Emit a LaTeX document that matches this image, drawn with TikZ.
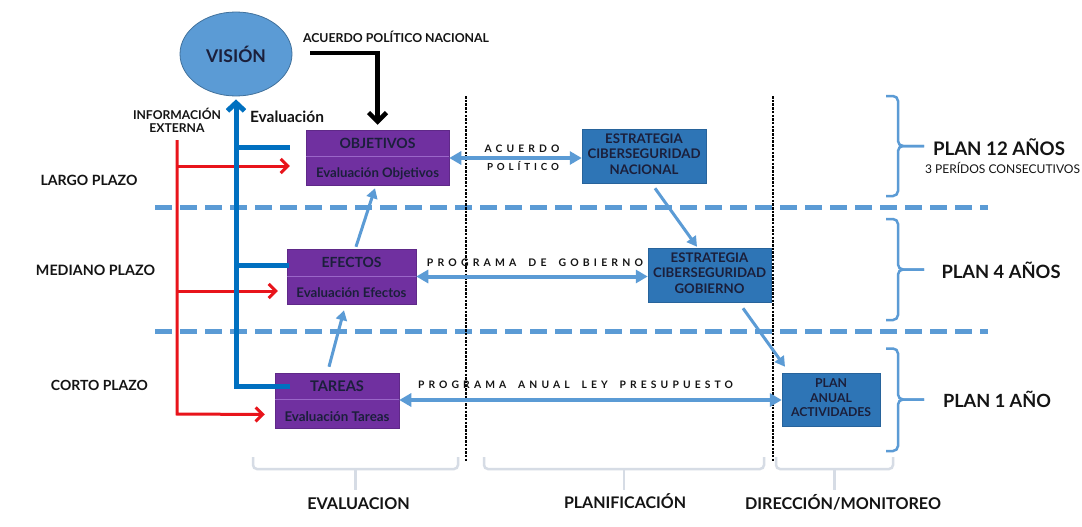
\documentclass[tikz,border=0pt]{standalone}
\usepackage{fontspec}
\setmainfont{Lato}
\newfontfamily\spf{Lato}[LetterSpace=40]
\usetikzlibrary{arrows.meta,shapes.geometric,calc}
\definecolor{purp}{HTML}{7030A0}
\definecolor{purpline}{HTML}{9A66C8}
\definecolor{boxblue}{HTML}{2E75B6}
\definecolor{lblue}{HTML}{5B9BD5}
\definecolor{dblue}{HTML}{0070C0}
\definecolor{navy}{HTML}{1B1F3B}
\definecolor{bred}{HTML}{E8141B}
\definecolor{gbrace}{HTML}{D6DCE5}
\definecolor{txt}{HTML}{141414}
\definecolor{ellborder}{HTML}{41719C}
\newcommand\myfs[1]{\fontsize{#1}{#1}\selectfont}
\newcommand\fitw[2]{\resizebox{#1}{!}{#2}}
\newcommand\threelines[4]{\fitw{#1}{\begin{tabular}{@{}c@{}}#2\\[2pt]#3\\[2pt]#4\end{tabular}}}
\begin{document}
\begin{tikzpicture}[x=1pt,y=-1pt,
  purplebox/.style={fill=purp, draw=purp!85!black, line width=0.5pt, inner sep=0pt},
  ptext/.style={text=navy, font=\bfseries\myfs{14}, inner sep=0pt},
  bluebox/.style={fill=boxblue, draw=boxblue!85!black, line width=0.5pt, inner sep=0pt, text=navy, font=\bfseries\myfs{14}},
  lbl/.style={text=txt, font=\bfseries\myfs{16}, inner sep=0pt},
  spaced/.style={text=txt, font=\spf\bfseries\myfs{10}, inner sep=0pt},
  biarrow/.style={lblue, line width=4pt, {Triangle[length=12pt,width=13pt]}-{Triangle[length=12pt,width=13pt]}},
  diag/.style={lblue, line width=3pt, -{Triangle[length=10pt,width=11pt]}},
  redarrow/.style={bred, line width=3pt, -{Straight Barb[length=7pt,width=14pt]}},
  trunk/.style={dblue, line width=5pt},
  blk/.style={black, line width=4.5pt, -{Straight Barb[length=9pt,width=18pt]}},
  sep/.style={lblue, line width=5pt, dash pattern=on 17pt off 8pt},
  dotsep/.style={black, line width=1.3pt, dash pattern=on 2.5pt off 1.2pt},
  rbrace/.style={lblue, line width=2.5pt, rounded corners=5pt},
  bbrace/.style={gbrace, line width=2.5pt, rounded corners=4pt}
]
\useasboundingbox (0,0) rectangle (1082,527);
\fill[white] (0,0) rectangle (1082,527);

% separators
\draw[sep] (155,207.7) -- (988,207.7);
\draw[sep] (155,331.7) -- (988,331.7);
\draw[dotsep] (466,96) -- (466,462);
\draw[dotsep] (773,96) -- (773,462);

% vision
\node[ellipse, fill=lblue, draw=ellborder, line width=0.8pt, minimum width=112pt, minimum height=84pt, inner sep=0pt, text=navy, font=\bfseries\myfs{20}] (vision) at (236,54) {\fitw{60pt}{VISIÓN}};
\node[lbl] (acnac) at (396,36.5) {\fitw{186pt}{ACUERDO POLÍTICO NACIONAL}};

% purple boxes
\node[purplebox, minimum width=143pt, minimum height=55pt] (obj) at (377.5,157.5) {};
\draw[purpline, line width=0.8pt] (obj.west |- 0,156) -- (obj.east |- 0,156);
\node[ptext] (objt) at (377.5,143) {\fitw{76pt}{OBJETIVOS}};
\node[ptext] (objs) at (377.5,174) {\fitw{123pt}{Evaluación Objetivos}};

\node[purplebox, minimum width=129pt, minimum height=55pt] (efe) at (351.5,276.5) {};
\draw[purpline, line width=0.8pt] (efe.west |- 0,276) -- (efe.east |- 0,276);
\node[ptext] (efet) at (351.5,262) {\fitw{60pt}{EFECTOS}};
\node[ptext] (efes) at (351.5,293) {\fitw{110pt}{Evaluación Efectos}};

\node[purplebox, minimum width=124pt, minimum height=55pt] (tar) at (337,400.5) {};
\draw[purpline, line width=0.8pt] (tar.west |- 0,399.5) -- (tar.east |- 0,399.5);
\node[ptext] (tart) at (337,386) {\fitw{54pt}{TAREAS}};
\node[ptext] (tars) at (337,417) {\fitw{105pt}{Evaluación Tareas}};

% blue boxes
\node[bluebox, minimum width=124pt, minimum height=54pt] (nac) at (644,156) {\threelines{113pt}{ESTRATEGIA}{CIBERSEGURIDAD}{NACIONAL}};
\node[bluebox, minimum width=123pt, minimum height=54pt] (gob) at (709.5,275) {\threelines{113pt}{ESTRATEGIA}{CIBERSEGURIDAD}{GOBIERNO}};
\node[bluebox, minimum width=98pt, minimum height=53pt] (pa) at (831,399.5) {\threelines{80pt}{PLAN}{ANUAL}{ACTIVIDADES}};

% left labels
\node[lbl] (info) at (177,122.5) {\fitw{88pt}{\begin{tabular}{@{}c@{}}INFORMACIÓN\\[1pt]EXTERNA\end{tabular}}};
\node[lbl] (evl) at (287,117) {\fitw{74pt}{Evaluación}};
\node[lbl] (largo) at (89,180) {\fitw{97pt}{LARGO PLAZO}};
\node[lbl] (mediano) at (95.5,270) {\fitw{119pt}{MEDIANO PLAZO}};
\node[lbl] (corto) at (99.5,385.7) {\fitw{97pt}{CORTO PLAZO}};

% spaced labels
\node[spaced] (ac1) at (522,148.3) {\fitw{75pt}{ACUERDO}};
\node[spaced] (ac2) at (523,165.7) {\fitw{72pt}{POLÍTICO}};
\node[spaced] (pg) at (535,263) {\fitw{216pt}{PROGRAMA\hspace{5pt} DE\hspace{5pt} GOBIERNO}};
\node[spaced] (pal) at (575.5,385) {\fitw{315pt}{PROGRAMA\hspace{5pt} ANUAL\hspace{5pt} LEY\hspace{5pt} PRESUPUESTO}};

% right labels
\node[lbl] (p12) at (999,146.7) {\fitw{132pt}{PLAN 12 AÑOS}};
\node[text=txt, font=\myfs{13}, inner sep=0pt] (p12s) at (1002.5,168) {\fitw{155pt}{3 PERÍDOS CONSECUTIVOS}};
\node[lbl] (p4) at (1001,270) {\fitw{119pt}{PLAN 4 AÑOS}};
\node[lbl] (p1) at (997,399.3) {\fitw{108pt}{PLAN 1 AÑO}};

% bottom labels
\node[lbl] (bev) at (358.5,504) {\fitw{102.5pt}{EVALUACION}};
\node[lbl] (bpl) at (625,501) {\fitw{122pt}{PLANIFICACIÓN}};
\node[lbl] (bdm) at (843,502) {\fitw{196pt}{DIRECCIÓN/MONITOREO}};

% right braces
\draw[rbrace] (886,96) -- (898,96) -- (898,146) -- (924,146);
\draw[rbrace] (886,196) -- (898,196) -- (898,146) -- (924,146);
\draw[rbrace] (886,219) -- (898,219) -- (898,269.5) -- (924,269.5);
\draw[rbrace] (886,320) -- (898,320) -- (898,269.5) -- (924,269.5);
\draw[rbrace] (886,348.5) -- (898,348.5) -- (898,399.5) -- (924,399.5);
\draw[rbrace] (886,451) -- (898,451) -- (898,399.5) -- (924,399.5);

% bottom braces
\draw[bbrace] (253,457) -- (253,469) -- (458,469) -- (458,457);
\draw[bbrace] (355.5,469) -- (355.5,490);
\draw[bbrace] (484,457) -- (484,469) -- (764,469) -- (764,457);
\draw[bbrace] (624,469) -- (624,490);
\draw[bbrace] (776,457) -- (776,469) -- (893,469) -- (893,457);
\draw[bbrace] (834.5,469) -- (834.5,490);

% red information lines
\coordinate (rtop) at (177,140);
\coordinate (r1) at (177,166);
\coordinate (r2) at (177,291);
\draw[redarrow] (rtop) -- (177,414) -- ($(tar.west)+(-10,14)$);
\draw[redarrow] (r1) -- ($(obj.west |- r1)+(-16,0)$);
\draw[redarrow] (r2) -- ($(efe.west |- r2)+(-9,0)$);

% blue evaluation trunk
\coordinate (b1) at (236,147.5);
\coordinate (b2) at (236,265);
\draw[trunk, -{Straight Barb[length=8pt,width=17pt]}] ($(tar.west)+(15,-14)$) -- (236,386.5) -- ($(vision.south)+(0,3)$);
\draw[trunk] (b1) -- ($(obj.west |- b1)+(-16,0)$);
\draw[trunk] (b2) -- ($(efe.west |- b2)+(2,0)$);

% black political agreement arrow
\coordinate (bk) at (310,53);
\draw[blk] (bk) -| ($(obj.north)+(0,-5)$);

% horizontal double arrows
\draw[biarrow] (obj.east |- 0,158) -- (nac.west |- 0,158);
\draw[biarrow] (efe.east |- 0,276.5) -- (gob.west |- 0,276.5);
\draw[biarrow] (tar.east |- 0,400) -- (pa.west |- 0,400);

% diagonal arrows
\draw[diag] ($(efe.north)+(4.5,-2)$) -- ($(obj.south)+(-2.5,3)$);
\draw[diag] ($(tar.north)+(-8,-6)$) -- ($(efe.south)+(-7.5,6)$);
\draw[diag] ($(nac.south)+(11,5)$) -- ($(gob.north)+(-12.5,-1)$);
\draw[diag] ($(gob.south)+(33.5,6)$) -- ($(pa.north)+(-46,-6)$);
\end{tikzpicture}
\end{document}
